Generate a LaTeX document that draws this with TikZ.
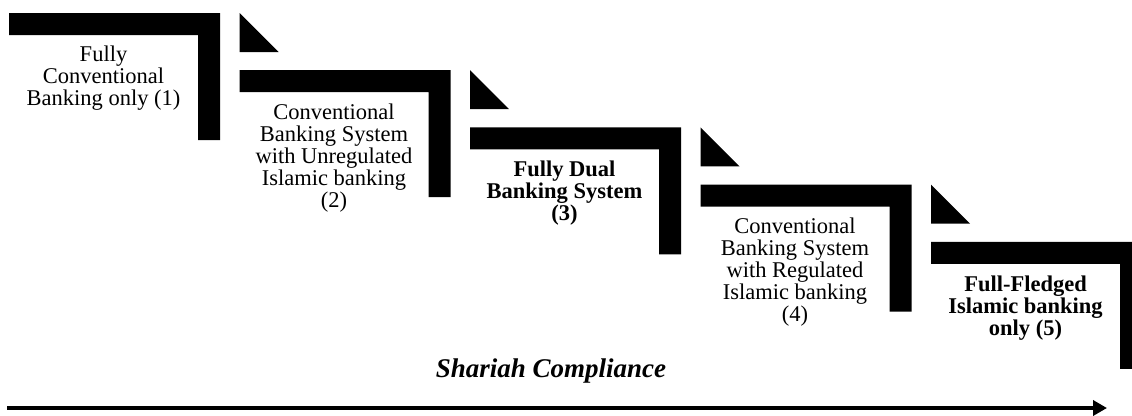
\documentclass[tikz,border=0pt]{standalone}
\usepackage{fontspec}
\setmainfont{Liberation Serif}
\usetikzlibrary{arrows.meta}
\tikzset{
  bracketshape/.style={fill=black,draw=none},
  stepmark/.style={fill=black,draw=none},
  steptext/.style={anchor=north,align=center,inner sep=0pt,font=\fontsize{22.5}{22}\selectfont},
  boldtext/.style={steptext,font=\fontsize{22.5}{22}\selectfont\bfseries},
  axisarrow/.style={line width=4pt,-{Triangle[length=14pt,width=15pt]}}
}
\newcommand{\bracketat}[2]{%
  \fill[bracketshape] (#1,#2) -- ++(211,0) -- ++(0,127) -- ++(-22,0) -- ++(0,-105) -- ++(-189,0) -- cycle;}
\newcommand{\markat}[2]{%
  \fill[stepmark] (#1,#2) -- ++(0,39) -- ++(39,0) -- cycle;}
\begin{document}
\begin{tikzpicture}[x=1pt,y=-1pt]
\useasboundingbox (0,0) rectangle (1132,415);
\begin{scope}
\clip (0,0) rectangle (1132,415);
\bracketat{9}{13}
\bracketat{239.5}{70.2}
\bracketat{470}{127.4}
\bracketat{700.5}{184.6}
\bracketat{931}{241.8}
\markat{239.5}{13}
\markat{470}{70.2}
\markat{700.5}{127.4}
\markat{931}{184.6}
\end{scope}
\node[steptext] (s1) at (103.5,46) {Fully\\Conventional\\Banking only (1)};
\node[steptext] (s2) at (334,103.5) {Conventional\\Banking System\\with Unregulated\\Islamic banking\\(2)};
\node[boldtext] (s3) at (564.5,161) {Fully Dual\\Banking System\\(3)};
\node[steptext] (s4) at (795,218) {Conventional\\Banking System\\with Regulated\\Islamic banking\\(4)};
\node[boldtext] (s5) at (1025.5,276) {Full-Fledged\\Islamic banking\\only (5)};
\node[anchor=base,inner sep=0pt,font=\fontsize{27}{30}\selectfont\bfseries\itshape] (title) at (551,377) {Shariah Compliance};
\coordinate (a0) at (7,408);
\coordinate (a1) at (1107,408);
\draw[axisarrow] (a0) -- (a1);
\end{tikzpicture}
\end{document}
